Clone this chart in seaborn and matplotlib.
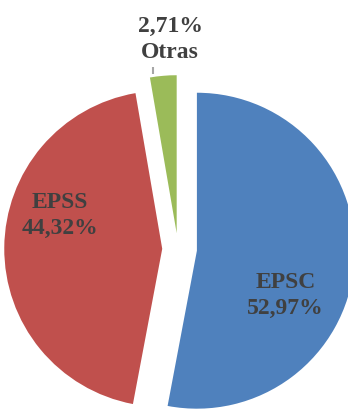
import matplotlib
matplotlib.use("Agg")
import matplotlib.pyplot as plt
import seaborn as sns

# Shares by centre type
categories = ["EPSC", "EPSS", "Otras"]
shares = [52.97, 44.32, 2.71]
colors = ["#4F81BD", "#C0504D", "#9BBB59"]

sns.set_theme(style="white")
plt.rcParams["font.family"] = ["Liberation Serif", "DejaVu Serif"]

fig = plt.figure(figsize=(3.48, 4.10), dpi=100)
ax = fig.add_axes([0, 0, 1, 1])

wedges, _ = ax.pie(
    shares,
    colors=colors,
    startangle=90,
    counterclock=False,
    explode=[0.12, 0.10, 0.10],
    radius=1.0,
    wedgeprops=dict(linewidth=0),
)

ax.set_aspect("equal")
ax.set_xlim(-1.127, 1.076)
ax.set_ylim(-1.013, 1.582)
ax.axis("off")


def fmt(v):
    return f"{v:.2f}".replace(".", ",") + "%"


text_kw = dict(fontsize=17, fontweight="bold", color="#404040",
               ha="center", va="center", linespacing=1.32)

ax.text(0.68, -0.29, f"{categories[0]}\n{fmt(shares[0])}", **text_kw)
ax.text(-0.75, 0.22, f"{categories[1]}\n{fmt(shares[1])}", **text_kw)
ax.text(-0.05, 1.33, f"{fmt(shares[2])}\n{categories[2]}", **text_kw)

# leader line for the small slice
ax.plot([-0.158, -0.158], [1.15, 1.105], color="#A6A6A6", lw=1.5,
        solid_capstyle="butt")

fig.savefig("out.png", dpi=100)
